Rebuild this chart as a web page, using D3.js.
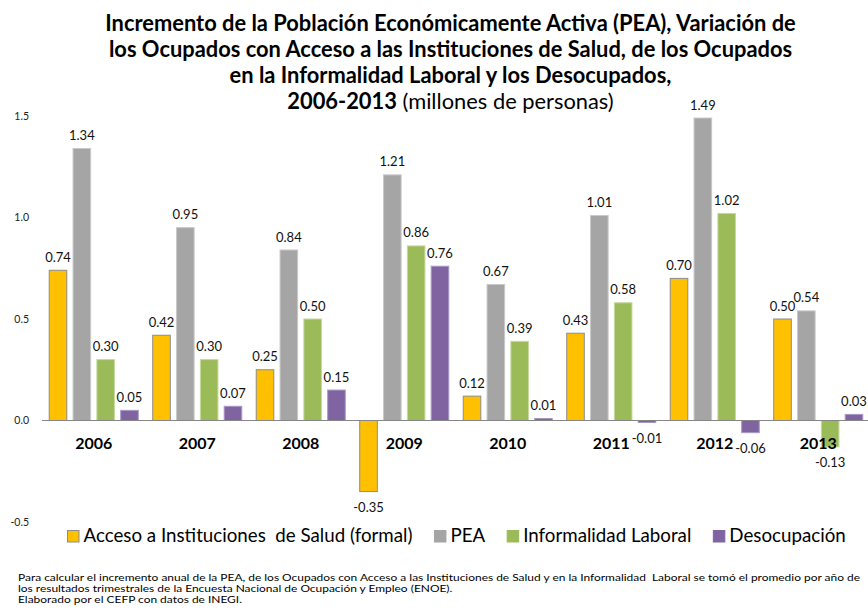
<!DOCTYPE html>
<html>
<head>
<meta charset="utf-8">
<script src="https://cdn.jsdelivr.net/npm/d3@7"></script>
<style>
  html, body { margin: 0; padding: 0; background: #fff; }
  svg { display: block; font-family: Lato, "Open Sans", sans-serif; }
</style>
</head>
<body>
<svg id="chart" width="868" height="611"></svg>
<script>
const years = ["2006", "2007", "2008", "2009", "2010", "2011", "2012", "2013"];
const seriesNames = ["Acceso a Instituciones  de Salud (formal)", "PEA", "Informalidad Laboral", "Desocupación"];
const formal      = [0.74, 0.42, 0.25, -0.35, 0.12, 0.43, 0.70, 0.50];
const pea         = [1.34, 0.95, 0.84, 1.21, 0.67, 1.01, 1.49, 0.54];
const informal    = [0.30, 0.30, 0.50, 0.86, 0.39, 0.58, 1.02, -0.13];
const desocup     = [0.05, 0.07, 0.15, 0.76, 0.01, -0.01, -0.06, 0.03];
const yTicks      = [-0.5, 0, 0.5, 1.0, 1.5];
const colors      = ["#FFC000", "#A5A5A5", "#9BBB59", "#8064A2"];
const strokes     = ["#8C8C8C", "#C8C8C8", "#C6D9A0", "#A898C4"];
const titleLines  = [
  "Incremento de la Población Económicamente Activa (PEA), Variación de",
  "los Ocupados con Acceso a las Instituciones de Salud, de los Ocupados",
  "en la Informalidad Laboral y los Desocupados,"
];
const footLines = [
  "Para calcular el incremento anual de la PEA, de los Ocupados con Acceso a las Instituciones de Salud y en la Informalidad  Laboral se tomó el promedio por año de",
  "los resultados trimestrales de la Encuesta Nacional de Ocupación y Empleo (ENOE).",
  "Elaborado por el CEFP con datos de INEGI."
];

const seriesValues = [formal, pea, informal, desocup];
const keys = ["formal", "pea", "informal", "desocup"];
const data = years.map((yr, i) => ({ year: yr, values: keys.map((k, j) => ({ key: k, idx: j, value: seriesValues[j][i] })) }));

const svg = d3.select("#chart");
const fmt = v => d3.format(".2f")(v).replace("\u2212", "-");

function fitWidth(sel, target, baseSize) {
  const w = sel.node().getComputedTextLength();
  const fs = baseSize * target / w;
  sel.attr("font-size", fs);
  return fs;
}

// Title
const tx = 450.5;
const t1 = svg.append("text").attr("x", tx).attr("y", 31).attr("text-anchor", "middle")
  .attr("font-weight", "bold").attr("font-size", 19).attr("fill", "#000").text(titleLines[0]);
const tfs = fitWidth(t1, 691, 19);
titleLines.slice(1).forEach((l, i) => {
  svg.append("text").attr("x", tx).attr("y", 57 + i * 26).attr("text-anchor", "middle")
    .attr("font-weight", "bold").attr("font-size", tfs).attr("fill", "#000").text(l);
});
const t4 = svg.append("text").attr("x", tx).attr("y", 109).attr("text-anchor", "middle")
  .attr("font-size", tfs).attr("fill", "#000");
t4.append("tspan").attr("font-weight", "bold").text("2006-2013");
t4.append("tspan").text(" (millones de personas)");

// Scales
const x0 = d3.scaleBand().domain(years).range([42, 870]).paddingInner(0.13).paddingOuter(0.065);
const x1 = d3.scaleBand().domain(keys).range([0, x0.bandwidth()]).paddingInner(0.22).paddingOuter(0);
const y = d3.scaleLinear().domain([-0.5, 1.5]).range([522, 116]);

// Y axis labels (no line)
const yAxis = d3.axisLeft(y).tickValues(yTicks).tickFormat(d => d3.format(".1f")(d).replace("\u2212", "-")).tickSize(0).tickPadding(0);
const ya = svg.append("g").attr("transform", "translate(29,0)").call(yAxis);
ya.select(".domain").remove();
ya.selectAll("text").attr("font-size", 10.5).attr("fill", "#222").attr("font-family", "Lato, sans-serif");

// Bars
const groups = svg.append("g").selectAll("g").data(data).join("g")
  .attr("transform", d => `translate(${x0(d.year)},0)`);

groups.selectAll("rect").data(d => d.values).join("rect")
  .attr("x", d => x1(d.key) + 0.5)
  .attr("width", x1.bandwidth() - 1)
  .attr("y", d => Math.min(y(d.value), y(0)))
  .attr("height", d => Math.abs(y(d.value) - y(0)))
  .attr("fill", d => colors[d.idx])
  .attr("stroke", d => strokes[d.idx])
  .attr("stroke-width", 1);

// X axis line
const xAxis = d3.axisBottom(x0).tickSize(0).tickFormat("");
const xa = svg.append("g").attr("transform", `translate(0,${y(0)})`).call(xAxis);
xa.select(".domain").attr("stroke", "#868686").attr("stroke-width", 1.2)
  .attr("d", "M42,0H868");

// Category labels
svg.append("g").selectAll("text").data(years).join("text")
  .attr("x", d => x0(d) + x0.bandwidth() / 2)
  .attr("y", 449)
  .attr("text-anchor", "middle")
  .attr("font-weight", "bold").attr("font-size", 16).attr("fill", "#000")
  .text(d => d);

// Value labels
groups.selectAll("text.val").data(d => d.values).join("text")
  .attr("class", "val")
  .attr("x", d => x1(d.key) + x1.bandwidth() / 2)
  .attr("y", d => d.value >= 0 ? y(d.value) - 13 : y(d.value) + 16)
  .attr("dy", "0.35em")
  .attr("text-anchor", "middle")
  .attr("font-size", 13).attr("fill", "#111")
  .text(d => fmt(d.value));

// Legend
const legend = svg.append("g").attr("transform", "translate(67,0)");
let lx = 0;
const legFs = (() => {
  const tmp = svg.append("text").attr("font-size", 18).style("white-space", "pre").text(seriesNames[0]);
  const w = tmp.node().getComputedTextLength();
  tmp.remove();
  return 18 * 329 / w;
})();
seriesNames.forEach((name, i) => {
  legend.append("rect").attr("x", lx + 0.5).attr("y", 530.5).attr("width", 11.5).attr("height", 11.5)
    .attr("fill", colors[i]).attr("stroke", i === 0 ? "#8C8C8C" : colors[i]).attr("stroke-width", 1);
  const t = legend.append("text").attr("x", lx + 16.5).attr("y", 542).attr("font-size", legFs)
    .attr("fill", "#000").style("white-space", "pre").text(name);
  lx += 16.5 + t.node().getComputedTextLength() + 21.5;
});

// Footnote
const footFs = 9.3;
const footSel = svg.append("g").selectAll("text").data(footLines).join("text")
  .attr("x", 18).attr("y", (d, i) => 580.5 + i * 11.2)
  .attr("font-size", footFs).attr("fill", "#000").style("white-space", "pre")
  .text(d => d);
const fw0 = footSel.nodes()[0].getComputedTextLength();
const fscale = 842 / fw0;
footSel.each(function() {
  const w = this.getComputedTextLength();
  d3.select(this).attr("textLength", w * fscale).attr("lengthAdjust", "spacingAndGlyphs");
});
</script>
</body>
</html>
